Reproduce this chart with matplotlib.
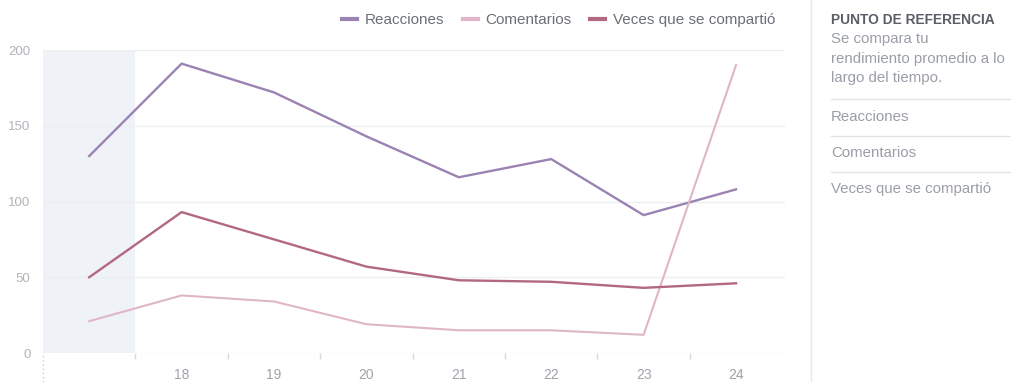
import matplotlib
matplotlib.use("Agg")
import matplotlib.pyplot as plt
from matplotlib.lines import Line2D

plt.rcParams['font.family'] = ['Liberation Sans', 'DejaVu Sans']

days = [17, 18, 19, 20, 21, 22, 23, 24]
reacciones = [130, 191, 172, 143, 116, 128, 91, 108]
comentarios = [21, 38, 34, 19, 15, 15, 12, 190]
compartido = [50, 93, 75, 57, 48, 47, 43, 46]
day_labels = ['18', '19', '20', '21', '22', '23', '24']

c_reac = '#9a83b3'
c_com = '#dfb6c7'
c_comp = '#b2697f'
grey_txt = '#9a9ea6'

W, H = 1011, 382
fig = plt.figure(figsize=(W / 100, H / 100), dpi=100)
ax = fig.add_axes([43 / W, 29 / H, 742 / W, 303 / H])

ax.axvspan(16.5, 17.5, color='#eff2f7', zorder=0, lw=0)
for v in [0, 50, 100, 150, 200]:
    ax.axhline(v, color='#eceef2', lw=0.9, zorder=1)

ax.plot(days, reacciones, color=c_reac, lw=1.7, zorder=3)
ax.plot(days, comentarios, color=c_com, lw=1.5, zorder=3)
ax.plot(days, compartido, color=c_comp, lw=1.7, zorder=3)

ax.set_xlim(16.5, 24.53)
ax.set_ylim(0, 200)
for s in ax.spines.values():
    s.set_visible(False)

ax.set_yticks([0, 50, 100, 150, 200])
ax.set_yticklabels(['0', '50', '100', '150', '200'])
ax.tick_params(axis='y', length=0, pad=9, labelsize=9.5, labelcolor='#b0b3b8')
ax.set_xticks(days[1:])
ax.set_xticklabels(day_labels)
ax.set_xticks([16.5 + k for k in range(1, 8)], minor=True)
ax.tick_params(axis='x', which='major', length=0, pad=11, labelsize=10, labelcolor='#a0a3a9')
ax.tick_params(axis='x', which='minor', length=4, width=1, color='#d8dadf', direction='out')

# dotted line below first boundary
fig.add_artist(Line2D([43 / W, 43 / W], [0, 29 / H], color='#c8cbd0', lw=1, ls=(0, (1, 2))))

handles = [Line2D([], [], color=c_reac, lw=3),
           Line2D([], [], color=c_com, lw=3),
           Line2D([], [], color=c_comp, lw=3)]
fig.legend(handles, ['Reacciones', 'Comentarios', 'Veces que se compartió'],
           loc='center right', bbox_to_anchor=(789 / W, 1 - 20 / H), ncol=3,
           frameon=False, fontsize=11, handlelength=1.0, handletextpad=0.5,
           columnspacing=1.2, labelcolor='#6b6f76')

# side panel
fig.add_artist(Line2D([811 / W, 811 / W], [0, 1], color='#e6e7ea', lw=1))
x0 = 831 / W
fig.text(x0, 1 - 20 / H, 'PUNTO DE REFERENCIA', fontsize=9.9, fontweight='bold',
         color='#5a5e66', va='center')
for y, t in [(39, 'Se compara tu'), (59, 'rendimiento promedio a lo'),
             (78, 'largo del tiempo.')]:
    fig.text(x0, 1 - y / H, t, fontsize=10.8, color=grey_txt, va='center')
for y in [99, 136, 172]:
    fig.add_artist(Line2D([x0, 1], [1 - y / H, 1 - y / H], color='#e3e4e7', lw=1))
for y, t in [(117, 'Reacciones'), (153, 'Comentarios'), (189, 'Veces que se compartió')]:
    fig.text(x0, 1 - y / H, t, fontsize=10.8, color=grey_txt, va='center')

fig.savefig('out.png', dpi=100)
